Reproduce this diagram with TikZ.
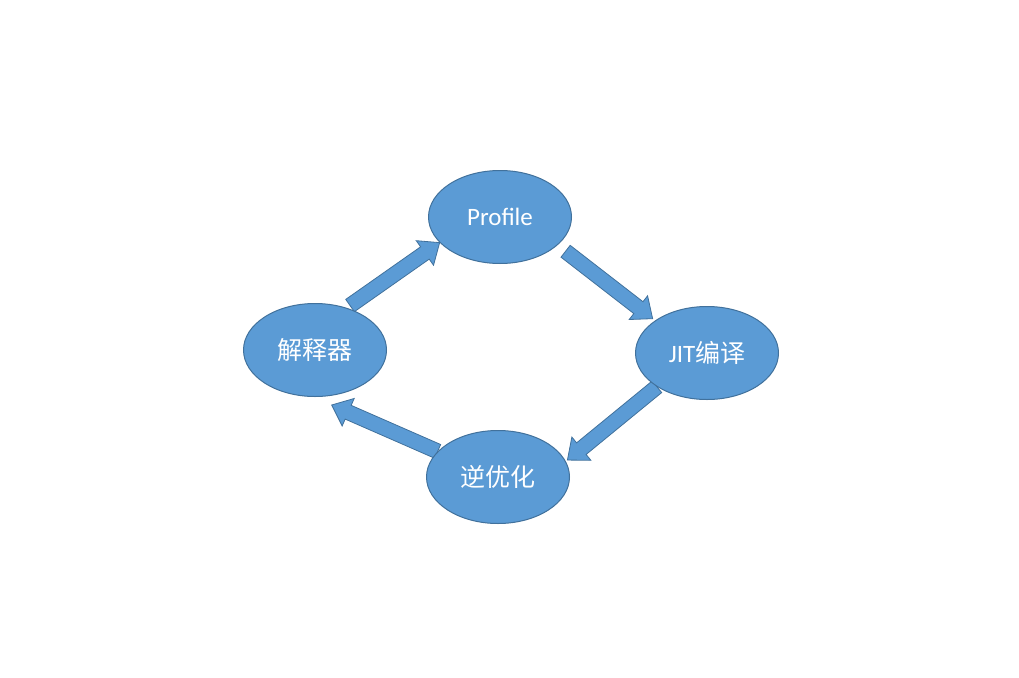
\documentclass[tikz,border=0pt]{standalone}
\usepackage{fontspec}
\setmainfont{Carlito}
\newfontfamily\cjk{Noto Sans CJK SC}
\usepackage{tikz}
\usetikzlibrary{calc, shapes.geometric}
\definecolor{ellblue}{RGB}{91,155,213}
\definecolor{edgeblue}{RGB}{65,113,156}
\pgfdeclarelayer{background}
\pgfsetlayers{background,main}

\newcommand{\blockarr}[4]{%
\coordinate (tl) at ($(#1)!#3!(#2)$);
\coordinate (tp) at ($(#2)!#4!(#1)$);
\coordinate (nk) at ($(tp)!18pt!(tl)$);
\draw[fatarrow] ($(tl)!7.5pt!90:(tp)$) -- ($(nk)!7.5pt!90:(tp)$) -- ($(nk)!15pt!90:(tp)$) -- (tp)
  -- ($(nk)!15pt!-90:(tp)$) -- ($(nk)!7.5pt!-90:(tp)$) -- ($(tl)!7.5pt!-90:(tp)$) -- cycle;
}

\begin{document}
\begin{tikzpicture}[x=1pt, y=-1pt,
  stage/.style={ellipse, draw=edgeblue, fill=ellblue, line width=1pt, minimum width=143pt, minimum height=93pt, inner sep=0pt, text=white, font=\fontsize{25}{30}\selectfont},
  fatarrow/.style={draw=edgeblue, fill=ellblue, line width=0.8pt, line join=miter}]
\useasboundingbox (0,0) rectangle (1019,677);
\node[stage] (prof) at (500,217) {Profile};
\node[stage] (interp) at (315,350) {\cjk 解释器};
\node[stage] (jit) at (707,353) {JIT{\cjk 编译}};
\node[stage] (deopt) at (498,477) {\cjk 逆优化};
\begin{pgfonlayer}{background}
\blockarr{interp.53}{prof.203}{4pt}{0pt}
\blockarr{prof.334}{jit.148}{10pt}{3pt}
\blockarr{jit.214}{deopt.13}{0pt}{2pt}
\blockarr{deopt.157}{interp.268}{0pt}{20pt}
\end{pgfonlayer}
\end{tikzpicture}
\end{document}
